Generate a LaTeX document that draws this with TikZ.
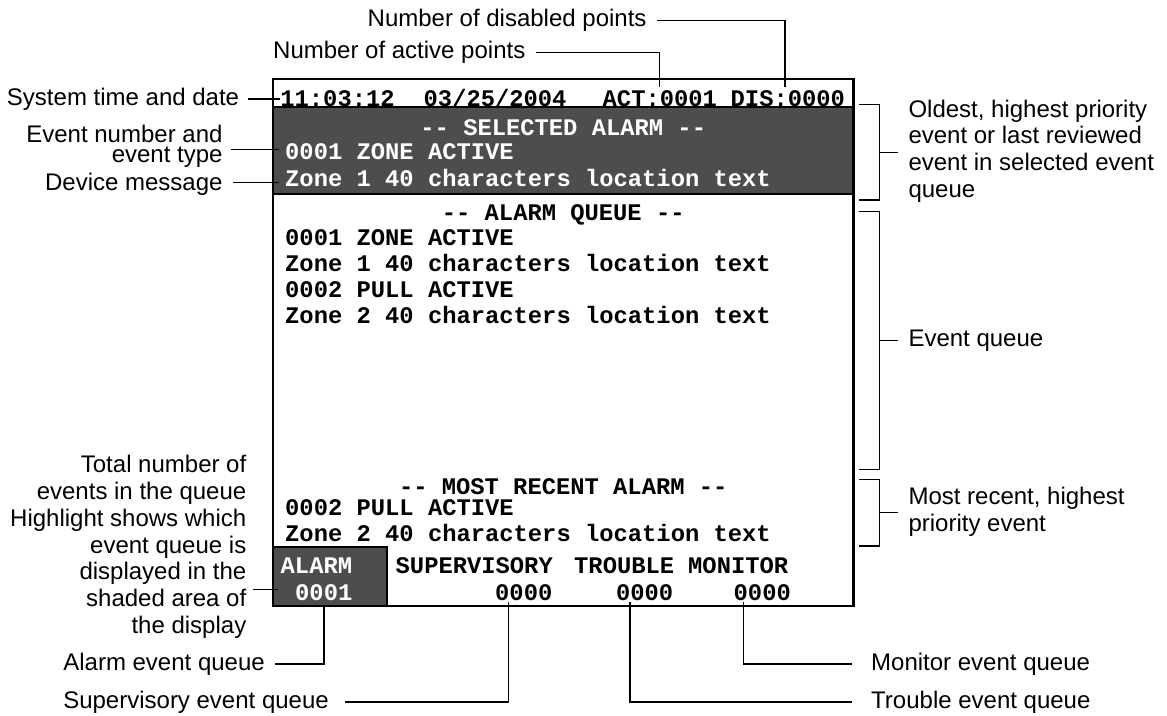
\documentclass[tikz,border=0pt]{standalone}
\usepackage{fontspec}
\usetikzlibrary{calc}
\newfontfamily\lsans{Liberation Sans}
\newfontfamily\lmono{Liberation Mono}
\newcommand\lblfont{\lsans\fontsize{24}{26.8}\selectfont}
\newcommand\tightfont{\lsans\fontsize{24}{19.5}\selectfont}
\newcommand\monfont{\lmono\bfseries\fontsize{23.8}{26}\selectfont}
\newcommand\dd{-\kern0pt-}
\definecolor{shade}{RGB}{77,77,77}
\begin{document}
\begin{tikzpicture}[x=1pt,y=-1pt,
  lbl/.style={font=\lblfont, inner sep=0pt, text=black},
  mono/.style={font=\monfont, inner sep=0pt, text=black},
  monow/.style={mono, text=white},
  conn/.style={line width=1.5pt, line cap=butt, line join=miter},
  frame/.style={draw, line width=2.4pt},
  shadebox/.style={draw, line width=2pt, fill=shade, inner sep=0pt},
]
\useasboundingbox (0,0) rectangle (1167,715);

% display boxes
\node[shadebox, minimum width=580.5pt, minimum height=87pt] (selbox) at (563.25,150.8) {};
\node[shadebox, minimum width=113.7pt, minimum height=59.3pt] (almbox) at (329.85,576.35) {};
\node[frame, minimum width=580.5pt, minimum height=527pt] (disp) at (563.25,342.5) {};

% status line
\node[mono, anchor=base west] (tm)  at (280.2,106.5) {11:03:12};
\node[mono, anchor=base west] (dt)  at (423.5,106.5) {03/25/2004};
\node[mono, anchor=base west] (act) at (602.5,106.5) {ACT:0001};
\node[mono, anchor=base west] (dis) at (730.5,106.5) {DIS:0000};

% selected alarm
\node[monow, anchor=base] (selhead) at (563.25,135) {\dd{} SELECTED ALARM \dd};
\node[monow, anchor=base west] (sel1) at (285,159.5) {0001 ZONE ACTIVE};
\node[monow, anchor=base west] (sel2) at (285,186) {Zone 1 40 characters location text};

% alarm queue
\node[mono, anchor=base] (qhead) at (563.25,220) {\dd{} ALARM QUEUE \dd};
\node[mono, anchor=base west] (q1) at (285,245) {0001 ZONE ACTIVE};
\node[mono, anchor=base west] (q2) at (285,271.7) {Zone 1 40 characters location text};
\node[mono, anchor=base west] (q3) at (285,297.3) {0002 PULL ACTIVE};
\node[mono, anchor=base west] (q4) at (285,323.3) {Zone 2 40 characters location text};

% most recent
\node[mono, anchor=base] (rhead) at (563.25,494) {\dd{} MOST RECENT ALARM \dd};
\node[mono, anchor=base west] (r1) at (285,515) {0002 PULL ACTIVE};
\node[mono, anchor=base west] (r2) at (285,541.7) {Zone 2 40 characters location text};

% queue counters
\node[monow, anchor=base west] (alm)  at (280.5,573.3) {ALARM};
\node[mono,  anchor=base west] (sup)  at (395.5,573.3) {SUPERVISORY};
\node[mono,  anchor=base west] (trbl) at (574,573.3) {TROUBLE};
\node[mono,  anchor=base west] (mont) at (688,573.3) {MONITOR};
\node[monow, anchor=base west] (almn) at (295,600) {0001};
\node[mono,  anchor=base west] (supn) at (495,600) {0000};
\node[mono,  anchor=base west] (trbn) at (615.8,600) {0000};
\node[mono,  anchor=base west] (monn) at (733.5,600) {0000};

% labels
\node[lbl, anchor=base east] (ndis) at (646.7,26.5) {Number of disabled points};
\node[lbl, anchor=base west] (nact) at (273,58.5) {Number of active points};
\node[lbl, anchor=base east] (sys) at (239.3,105) {System time and date};
\node[lbl, font=\tightfont, anchor=base east, align=right] (evt) at (222.7,162) {Event number and\\event type};
\node[lbl, anchor=base east] (dev) at (222.7,190) {Device message};
\node[lbl, anchor=base east, align=right] (tot) at (246.5,633.5)
  {Total number of\\events in the queue\\Highlight shows which\\event queue is\\displayed in the\\shaded area of\\the display};
\node[lbl, anchor=base east] (alq) at (265,670) {Alarm event queue};
\node[lbl, anchor=base east] (supq) at (329,708) {Supervisory event queue};
\node[lbl, anchor=base west] (monq) at (871,670) {Monitor event queue};
\node[lbl, anchor=base west] (trbq) at (871,708) {Trouble event queue};
\node[lbl, anchor=base west, align=left] (old) at (908.3,197.4)
  {Oldest, highest priority\\event or last reviewed\\event in selected event\\queue};
\node[lbl, anchor=base west] (evq) at (908.3,346.6) {Event queue};
\node[lbl, anchor=base west, align=left] (recent) at (908.3,531.5)
  {Most recent, highest\\priority event};

% connector end points
\coordinate (c-dis) at (785,87.3);
\coordinate (c-act) at (659.3,87.3);
\coordinate (c-evt) at (279,149.3);
\coordinate (c-dev) at (279,182.7);
\coordinate (c-tot) at (278.3,589.3);
\coordinate (c-alq) at (324,606);
\coordinate (c-sup) at (508.3,602);
\coordinate (c-trb) at (630,602);
\coordinate (c-mon) at (743.3,602);

\draw[conn] ($(ndis.east)+(10.6,0)$) -| (c-dis);
\draw[conn] ($(nact.east)+(10,0)$) -| (c-act);
\draw[conn] ($(sys.east)+(9,0)$) -- (sys.east -| tm.west);
\draw[conn] ($(c-evt -| evt.east)+(8.3,0)$) -- (c-evt);
\draw[conn] ($(c-dev -| dev.east)+(10,0)$) -- (c-dev);
\draw[conn] ($(c-tot -| tot.east)+(6,0)$) -- (c-tot);
\draw[conn] ($(alq.east)+(10,0)$) -| (c-alq);
\draw[conn] ($(supq.east)+(16,0)$) -| (c-sup);
\draw[conn] ($(trbq.west)+(-19,0)$) -| (c-trb);
\draw[conn] ($(monq.west)+(-19,0)$) -| (c-mon);

% brackets
\coordinate (b1t) at (859.3,104.3);
\coordinate (b1b) at (859.3,200);
\coordinate (b1m) at (879.3,152.3);
\coordinate (b2t) at (859.3,211.7);
\coordinate (b2b) at (859.3,469.3);
\coordinate (b2m) at (879.3,340.5);
\coordinate (b3t) at (859.3,479.3);
\coordinate (b3b) at (859.3,546);
\coordinate (b3m) at (879.3,512.6);
\draw[conn] (b1t) -- ++(20,0) |- (b1b);
\draw[conn] (b1m) -- ($(b1m -| old.west)+(-10,0)$);
\draw[conn] (b2t) -- ++(20,0) |- (b2b);
\draw[conn] (b2m) -- ($(b2m -| evq.west)+(-10,0)$);
\draw[conn] (b3t) -- ++(20,0) |- (b3b);
\draw[conn] (b3m) -- ($(b3m -| recent.west)+(-10,0)$);
\end{tikzpicture}
\end{document}
